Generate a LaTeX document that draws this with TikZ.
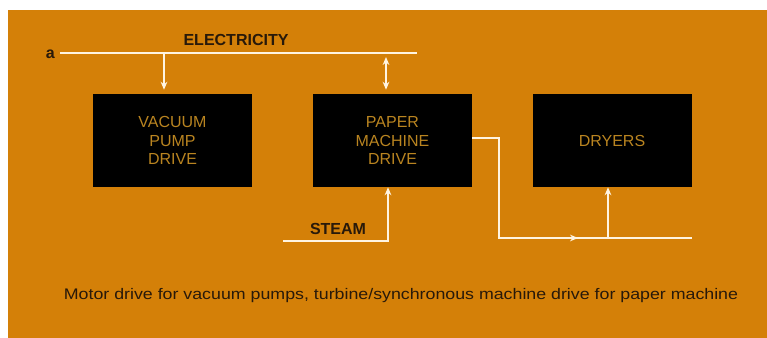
\documentclass[tikz,border=0pt]{standalone}
\usepackage{fontspec}
\setmainfont{Liberation Sans}
\usetikzlibrary{arrows.meta}
\definecolor{bgorange}{RGB}{212,128,8}
\definecolor{boxtext}{RGB}{185,132,32}
\definecolor{labeltext}{RGB}{40,25,10}
\definecolor{wire}{RGB}{255,244,225}
\begin{document}
\begin{tikzpicture}[x=0.75pt,y=-0.75pt,
  blk/.style={fill=black,draw=none,minimum width=159*0.75pt,minimum height=93*0.75pt,
    text=boxtext,align=center,font=\fontsize{12}{14}\selectfont,inner sep=0pt},
  lbl/.style={text=labeltext,font=\bfseries\fontsize{12}{14}\selectfont,inner sep=0pt},
  wireline/.style={draw=wire,line width=1.5pt},
  tip/.style={-{Stealth[length=6pt,width=5pt]}}]
\useasboundingbox (0,0) rectangle (767,338);
\fill[white] (-2,-2) rectangle (770,340);
\fill[bgorange] (8,10) rectangle (770,340);
% boxes
\node[blk] (vac) at (172.5,140.5) {VACUUM\\PUMP\\DRIVE};
\node[blk] (pmd) at (392.5,140.5) {PAPER\\MACHINE\\DRIVE};
\node[blk] (dry) at (612,140.5) {DRYERS};
% labels
\node[lbl,anchor=east] (a) at (55,54) {a};
\node[lbl] (elec) at (236,40) {ELECTRICITY};
\node[lbl] (steam) at (338,229) {STEAM};
\node[text=labeltext,font=\fontsize{11.5}{13}\selectfont,inner sep=0] (cap) at (401,296)
  {\scalebox{1.16}[1]{Motor drive for vacuum pumps, turbine/synchronous machine drive for paper machine}};
% coordinates
\coordinate (eL) at (60,53);
\coordinate (eR) at (417,53);
\coordinate (sL) at (283,241);
\coordinate (oR) at (692,238);
\coordinate (vx) at (164,0);
\coordinate (px) at (386,0);
\coordinate (sx) at (388,0);
\coordinate (dx) at (608,0);
% electricity bus
\draw[wireline] (eL) -- (eR);
\draw[wireline,tip] (vx |- eL) -- ([yshift=4*0.75pt]vx |- vac.north);
\draw[wireline,{Stealth[length=6pt,width=5pt]}-{Stealth[length=6pt,width=5pt]}] ([yshift=-4*0.75pt]px |- eL) -- ([yshift=4*0.75pt]px |- pmd.north);
% steam
\draw[wireline,tip] (sL) -| (sx |- pmd.south);
% output
\draw[wireline] (pmd.east |- 0,138) -| (499,238) -- (oR);
\draw[wireline,tip] (499,238) -- (578,238);
\draw[wireline,tip] (dx |- oR) -- (dx |- dry.south);
\end{tikzpicture}
\end{document}
